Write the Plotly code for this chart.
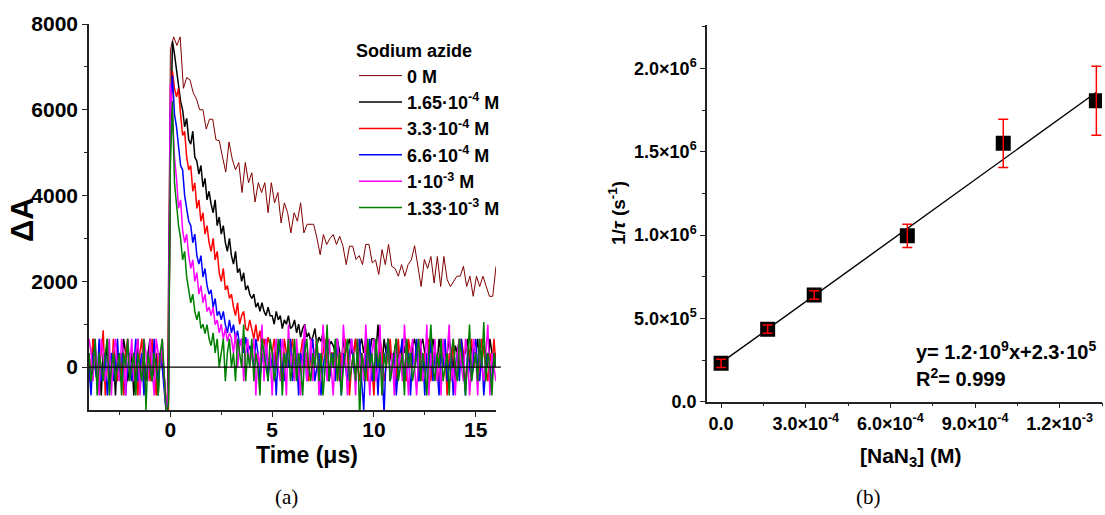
import numpy as np
import plotly.graph_objects as go

W, H = 1105, 515
FONT = "Arial, 'Liberation Sans', sans-serif"

# ---------------- panel (a): transient absorption traces ----------------
# sampling grids (start time in µs, step in µs)
T0_FAST, DT_FAST = -4.0, 0.1
T0_SLOW, DT_SLOW = -0.32, 0.16

trace_0M = [
    0, -1100, 7400, 7700, 7500, 7700, 6500, 6750, 6700, 6400,
    6250, 6000, 6000, 5550, 5780, 5780, 5300, 5280, 4900, 4550,
    5250, 4850, 4600, 4770, 4070, 4770, 4300, 4530, 3850, 4300,
    4070, 4300, 3600, 4300, 3830, 4070, 3360, 3830, 3600, 3130,
    3600, 3400, 3830, 3130, 3330, 3330, 3330, 3010, 2620, 3090,
    2860, 3000, 3090, 2860, 3050, 2820, 2390, 2820, 2820, 2510,
    2600, 2390, 2860, 2860, 2430, 2500, 2160, 2740, 2390, 2860,
    2350, 2300, 2120, 2390, 2120, 2390, 2500, 2830, 2390, 1880,
    2510, 2300, 2580, 1960, 2580, 1880, 2580, 2040, 1880, 2000,
    2120, 2120, 2350, 1880, 2120, 1650, 2120, 1880, 2120, 1880,
    1650, 1650, 2350,
]

trace_165e4 = [
    330, -330, 660, 0, -330, 330, -660, 330, 0, 660,
    -330, 0, 330, -660, 330, 0, -330, 660, 330, -330,
    0, 330, -660, 0, 660, -330, 330, 0, -330, 330,
    660, -330, 0, 330, -660, 330, 0, -330, -1100, -800,
    5000, 7600, 7300, 6900, 6500, 6200, 6000, 5600, 5800, 5300,
    5200, 5500, 4900, 4800, 4500, 4700, 4200, 4400, 3900, 4100,
    3800, 3600, 3900, 3300, 3500, 3100, 3300, 2900, 2700, 3000,
    2600, 2400, 2700, 2200, 2300, 2000, 2200, 1800, 1900, 1700,
    1600, 1700, 1400, 1500, 1300, 1500, 1300, 1200, 1400, 1200,
    1200, 1000, 1300, 1100, 1200, 900, 1100, 1000, 1200, 900,
    950, 1100, 800, 1000, 700, 900, 1000, 700, 800, 600,
    700, 900, 500, 700, 600, 800, 400, 700, 500, 600,
    500, 330, 660, 400, 0, 660, 330, 500, 660, 330,
    330, 660, 0, 500, 660, 330, 660, 0, 330, 660,
    660, 330, 990, 330, 0, 660, 330, 660, 330, 0,
    330, 660, 330, 0, 660, 330, 660, 330, 0, 500,
    660, 330, -330, 500, 660, 330, 0, 660, 330, 660,
    330, 0, 660, 330, 500, 0, 330, 660, 330, 0,
    500, 330, 660, 0, 330, 330, 660, 0, 500, 330,
    330, 660, 0, 330, 500, 330, 0, 660, 330, 0,
    330,
]

trace_33e4 = [
    -330, 0, 660, 330, -330, 0, 330, 860, -660, 0,
    330, -330, 660, 0, -330, 330, 0, -660, 330, 660,
    0, -330, 330, 0, -660, 330, 660, -330, 0, 330,
    -330, 660, 0, -660, 330, 0, 330, -330, -900, -1100,
    5500, 6900, 6500, 6300, 6500, 5900, 5400, 5500, 4900, 4600,
    4700, 4100, 4300, 3700, 3900, 3400, 3600, 3100, 3300, 2900,
    2700, 3000, 2500, 2700, 2200, 2000, 2300, 1800, 1900, 1600,
    1700, 1400, 1200, 1500, 1000, 1200, 1300, 900, 850, 1100,
    850, 660, 990, 600, 850, 500, 660, 330, 700, 500,
    330, 660, 0, 500, 330, -330, 660, 330, 0, 330,
    660, 0, 330, -330, 330, 660, 0, 330, -330, 330,
    0, 330, 660, -330, 0, 330, 660, 0, -330, 330,
    330, 0, 660, -330, 330, 0, 660, 330, -660, 0,
    330, 660, 0, -330, 330, 0, 660, -330, 330, 0,
    -660, 330, 0, 660, 330, -330, 0, 330, 660, 0,
    330, -330, 660, 0, 330, 0, -330, 660, 330, 0,
    0, 330, 660, -330, 0, 330, 0, 660, -330, 330,
    330, 0, -330, 660, 0, 330, -660, 330, 0, 660,
    -330, 330, 0, 660, 330, -330, 0, 330, 660, 0,
    330, -330, 0, 660, 330, 0, -330, 330, 0, 660,
    0,
]

trace_66e4 = [
    0, -660, 330, 0, -330, 660, -330, 0, 330, -660,
    0, 330, -330, 0, 660, -330, 330, 0, -660, 0,
    330, -330, 0, 660, -330, 0, 330, -660, 0, 330,
    0, -330, 660, 0, -330, 330, 0, -660, -1100, -700,
    6000, 6800, 5900, 5600, 5200, 4700, 4600, 4000, 3700, 3400,
    3300, 2900, 3100, 2600, 2400, 2600, 2100, 2300, 1900, 1700,
    1800, 1400, 1600, 1200, 1300, 1100, 1300, 990, 800, 1100,
    800, 990, 660, 850, 500, 660, 330, 700, 330, 500,
    330, 0, 660, 330, -330, 330, 0, 660, -330, 330,
    0, 330, -660, 330, 660, 0, -330, 330, 0, 660,
    -330, 0, 330, -660, 330, 0, 660, -330, 0, 330,
    660, -330, 0, 330, -660, 0, 330, 660, -330, 0,
    330, -330, 660, 0, -660, 330, 0, -330, 330, 660,
    0, -330, 330, 660, -330, -1000, 330, 0, 660, -330,
    0, 330, -660, 330, 0, -1100, 330, 660, -330, 0,
    330, -660, 0, 330, 660, -330, 0, 330, -660, 330,
    0, 660, -330, 0, 330, -660, 330, 0, 660, -330,
    330, 0, -660, 330, 0, 660, -330, 0, 330, -660,
    0, 330, -330, 660, 0, -660, 330, 0, -330, 330,
    660, 0, -330, 330, -660, 0, 330, 0, -330, 330,
    0,
]

trace_1e3 = [
    660, 330, -330, 660, 0, -660, 660, 330, -330, 0,
    660, -660, 330, 660, 0, -330, 660, 330, -660, 660,
    0, 660, -330, 330, 660, -660, 0, 660, 330, -330,
    660, 0, -660, 660, 330, 0, 660, -330, -1100, -400,
    6600, 5900, 4900, 4400, 3700, 3900, 3200, 2900, 3100, 2600,
    2300, 2500, 2000, 2200, 1700, 1900, 1500, 1700, 1300, 1400,
    1200, 1400, 990, 1100, 800, 1000, 660, 900, 600, 800,
    660, 330, 800, 0, 500, 660, -330, 330, 660, 0,
    330, 660, -660, 330, 0, 990, -330, 660, 0, 330,
    -660, 330, 660, 0, -330, 660, 330, -660, 990, 0,
    330, -330, 660, 0, -660, 330, 990, -330, 0, 660,
    -330, 330, 660, -660, 0, 990, 330, -330, 660, 0,
    -660, 330, 660, 0, -330, 990, 330, -660, 0, 660,
    330, -660, 660, 0, 330, -330, 990, 0, -660, 330,
    660, -330, 0, 990, -660, 330, 0, 660, -330, 330,
    -660, 660, 0, 330, -330, 990, 0, -660, 330, 660,
    0, -660, 330, 660, -330, 0, 990, -660, 330, 0,
    660, -330, 330, -660, 660, 0, 330, 990, -330, 0,
    -660, 330, 660, 0, -330, 660, 330, -660, 0, 660,
    330, -660, 660, 0, -330, 330, 990, -660, 330, 0,
    -330,
]

trace_133e3 = [
    330, -330, 0, 660, -660, 330, 0, -330, 330, 660,
    -660, 0, 330, -330, 0, 330, -660, 330, 0, 660,
    -330, 0, 330, -660, 330, 0, -330, 660, -1000, 330,
    0, -330, 330, 0, -660, 330, 660, -330, -1100, -900,
    4800, 6200, 4300, 3800, 3300, 3000, 2500, 2700, 2100, 1800,
    1500, 1700, 1300, 1100, 1300, 900, 1000, 780, 990, 660,
    500, 800, 330, 660, 0, 330, 660, -330, 330, 660,
    0, 330, -330, 660, 330, 0, 990, -330, 330, 0,
    660, -330, 330, 0, -660, 660, 330, 0, -330, 660,
    330, -330, 0, 660, 330, -660, 330, 0, 660, -330,
    0, 660, -330, 330, 0, -660, 330, 660, 0, -330,
    330, 0, 660, -330, 330, -660, 0, 990, -330, 330,
    0, 660, -330, 330, -660, 0, 330, 660, -330, 0,
    330, -330, 660, -1200, 330, 0, -330, 660, 0, 330,
    -330, 660, 0, 330, -660, 330, 0, 660, -330, 0,
    330, 660, -330, 0, 330, -660, 660, 0, 330, -330,
    0, 330, 660, -330, 330, 0, -660, 330, 990, 0,
    -330, 330, 0, 660, -330, 0, 330, -660, 330, 660,
    0, -330, 660, 330, 0, -660, 330, 990, -330, 0,
    330, -330, 660, 0, 1050, -330, 330, 0, -660, 330,
    0,
]

legend_names = ["0 M", "1.65·10<sup>-4</sup> M", "3.3·10<sup>-4</sup> M",
                "6.6·10<sup>-4</sup> M", "1·10<sup>-3</sup> M", "1.33·10<sup>-3</sup> M"]
trace_colors = ["#800000", "#000000", "#ff0000", "#0000ff", "#ff00ff", "#008000"]
trace_values = [trace_0M, trace_165e4, trace_33e4, trace_66e4, trace_1e3, trace_133e3]
trace_grids = [(T0_SLOW, DT_SLOW)] + [(T0_FAST, DT_FAST)] * 5

a_xticks = [0, 5, 10, 15]
a_xminor = [-2.5, 2.5, 7.5, 12.5]
a_yticks = [0, 2000, 4000, 6000, 8000]
a_yminor = [1000, 3000, 5000, 7000]

# ---------------- panel (b): 1/tau vs [NaN3] ----------------
conc = [0.0, 1.65e-4, 3.3e-4, 6.6e-4, 1.0e-3, 1.33e-3]
rate = [2.3e5, 4.35e5, 6.4e5, 9.95e5, 1.55e6, 1.805e6]
rate_err = [2.5e4, 2.5e4, 2.5e4, 7.0e4, 1.45e5, 2.07e5]

b_xticks = [0.0, 3.0e-4, 6.0e-4, 9.0e-4, 1.2e-3]
b_xticktext = ["0.0", "3.0×10<sup>-4</sup>", "6.0×10<sup>-4</sup>",
               "9.0×10<sup>-4</sup>", "1.2×10<sup>-3</sup>"]
b_xminor = [1.5e-4, 4.5e-4, 7.5e-4, 1.05e-3, 1.35e-3]
b_yticks = [0.0, 5.0e5, 1.0e6, 1.5e6, 2.0e6]
b_yticktext = ["0.0", "5.0×10<sup>5</sup>", "1.0×10<sup>6</sup>",
               "1.5×10<sup>6</sup>", "2.0×10<sup>6</sup>"]
b_yminor = [2.5e5, 7.5e5, 1.25e6, 1.75e6, 2.25e6]


def px(x):
    return x / W


def py(y):
    return 1 - y / H


fig = go.Figure()

for name, vals, color, (t0, dt) in zip(legend_names, trace_values, trace_colors, trace_grids):
    t = t0 + dt * np.arange(len(vals))
    fig.add_trace(go.Scatter(
        x=t, y=vals, mode="lines", name=name, legendgroup=name,
        line=dict(color=color, width=1.0 if color == "#800000" else 1.5),
        xaxis="x", yaxis="y",
    ))

slope, intercept = np.polyfit(conc, rate, 1)
fit_x = [conc[0], conc[-1]]
fig.add_trace(go.Scatter(
    x=fit_x, y=[slope * v + intercept for v in fit_x], mode="lines",
    line=dict(color="black", width=1.4), xaxis="x2", yaxis="y2", showlegend=False,
))
fig.add_trace(go.Scatter(
    x=conc, y=rate, mode="markers",
    marker=dict(symbol="square", size=15, color="black"),
    xaxis="x2", yaxis="y2", showlegend=False,
))
fig.add_trace(go.Scatter(
    x=conc, y=rate, mode="markers",
    marker=dict(size=1, color="rgba(0,0,0,0)"),
    error_y=dict(type="data", array=rate_err, color="#ff0000", thickness=1.5, width=5),
    xaxis="x2", yaxis="y2", showlegend=False,
))

axis_common = dict(
    showline=True, linecolor="#222", linewidth=1.5, mirror=False,
    ticks="outside", ticklen=5, tickwidth=1.3, tickcolor="#222",
    showgrid=False, zeroline=False, automargin=False,
)

fig.update_layout(
    width=W, height=H, autosize=False,
    margin=dict(l=0, r=0, t=0, b=0, pad=0),
    paper_bgcolor="white", plot_bgcolor="white",
    font=dict(family=FONT, color="black"),
    xaxis=dict(
        domain=[px(89), px(496)], range=[-4, 16], anchor="y",
        tickmode="array", tickvals=a_xticks,
        tickfont=dict(size=21, weight="bold", family=FONT),
        minor=dict(tickmode="array", tickvals=a_xminor, ticks="outside", ticklen=3, tickcolor="#222"),
        **axis_common,
    ),
    yaxis=dict(
        domain=[py(410), py(24)], range=[-1000, 8000], anchor="x",
        tickmode="array", tickvals=a_yticks,
        tickfont=dict(size=21, weight="bold", family=FONT),
        minor=dict(tickmode="array", tickvals=a_yminor, ticks="outside", ticklen=3, tickcolor="#222"),
        **axis_common,
    ),
    xaxis2=dict(
        domain=[px(707), px(1102)], range=[-5e-5, 1.35e-3], anchor="y2",
        tickmode="array", tickvals=b_xticks, ticktext=b_xticktext,
        tickfont=dict(size=18, weight="bold", family=FONT),
        minor=dict(tickmode="array", tickvals=b_xminor, ticks="outside", ticklen=3, tickcolor="#222"),
        **axis_common,
    ),
    yaxis2=dict(
        domain=[py(401.7), py(25)], range=[0, 2.26e6], anchor="x2",
        tickmode="array", tickvals=b_yticks, ticktext=b_yticktext,
        tickfont=dict(size=18, weight="bold", family=FONT),
        minor=dict(tickmode="array", tickvals=b_yminor, ticks="outside", ticklen=3, tickcolor="#222"),
        **axis_common,
    ),
    legend=dict(
        x=px(354), y=py(34), xanchor="left", yanchor="top",
        bgcolor="rgba(0,0,0,0)", borderwidth=0,
        font=dict(size=18, weight="bold", family=FONT, color="black"),
        title=dict(text="Sodium azide", font=dict(size=18, weight="bold", family=FONT)),
        tracegroupgap=6, itemwidth=43, traceorder="normal",
    ),
    showlegend=True,
    shapes=[dict(
        type="line", xref="x domain", yref="y", x0=0, x1=1.012, y0=0, y1=0,
        line=dict(color="black", width=1.3), layer="above",
    )],
)

# pull the bottom tick labels of panel (a) slightly closer to the axis
try:
    fig.update_xaxes(ticklabelstandoff=-5, selector=dict(anchor="y"))
except Exception:
    pass

ann = [
    dict(text="ΔA", x=px(22), y=py(220), textangle=-90, font=dict(size=31, weight="bold")),
    dict(text="Time (μs)", x=px(307), y=py(455), font=dict(size=23, weight="bold")),
    dict(text="1/<i>τ</i> (s<sup>-1</sup>)", x=px(617), y=py(213), textangle=-90,
         font=dict(size=19, weight="bold")),
    dict(text="[NaN<sub>3</sub>] (M)", x=px(911), y=py(457), font=dict(size=21, weight="bold")),
    dict(text="y= 1.2·10<sup>9</sup>x+2.3·10<sup>5</sup>", x=px(914), y=py(350), xanchor="left",
         font=dict(size=20, weight="bold")),
    dict(text="R<sup>2</sup>= 0.999", x=px(914), y=py(377), xanchor="left",
         font=dict(size=20, weight="bold")),
    dict(text="(a)", x=px(286), y=py(497), font=dict(size=21, family="'Liberation Serif', 'Times New Roman', serif")),
    dict(text="(b)", x=px(868), y=py(497), font=dict(size=21, family="'Liberation Serif', 'Times New Roman', serif")),
]
for a in ann:
    a.setdefault("xanchor", "center")
    a.update(xref="paper", yref="paper", showarrow=False, yanchor="middle")
    a["font"].setdefault("family", FONT)
    a["font"].setdefault("color", "black")
    fig.add_annotation(**a)

fig.write_html(
    "out.html",
    config={"displayModeBar": False},
    post_script="document.body.style.margin='0px';document.body.style.overflow='hidden';",
)
